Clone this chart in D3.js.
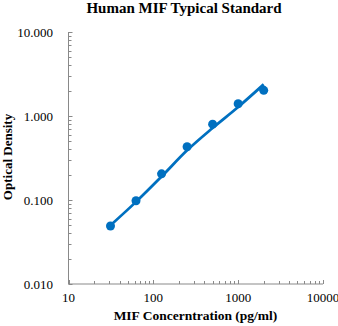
<!DOCTYPE html>
<html><head><meta charset="utf-8">
<script src="https://d3js.org/d3.v7.min.js"></script>
<style>body{margin:0;background:#fff}svg{display:block}</style>
</head><body>
<script>
const concentrations = [31.25, 62.5, 125, 250, 500, 1000, 2000];
const odValues = [0.049, 0.098, 0.205, 0.43, 0.80, 1.40, 2.02];
const fitConc = [31.25, 62.5, 125, 250, 500, 1000, 2000];
const fitOD = [0.05, 0.095, 0.19, 0.39, 0.72, 1.28, 2.38];
const xTicks = [10, 100, 1000, 10000];
const yTicks = [0.01, 0.1, 1, 10];
const title = "Human MIF Typical Standard";
const xTitle = "MIF Concerntration (pg/ml)";
const yTitle = "Optical Density";

const W = 338, H = 326;
const m = {left: 68.5, right: 15, top: 32, bottom: 42};
const svg = d3.select("body").append("svg").attr("width", W).attr("height", H);
const x = d3.scaleLog().domain([10, 10000]).range([m.left, W - m.right]);
const y = d3.scaleLog().domain([0.01, 10]).range([H - m.bottom, m.top]);
const axisColor = "#898989";
const font = "'Liberation Serif','Times New Roman',serif";

function minors(dom) {
  const out = [];
  for (let e = Math.log10(dom[0]); e < Math.log10(dom[1]); e++) {
    for (let k = 2; k <= 9; k++) out.push(k * Math.pow(10, e));
  }
  return out;
}
const g = svg.append("g");
g.append("line").attr("x1", x(10)).attr("x2", x(10)).attr("y1", y(10)).attr("y2", y(0.01))
  .attr("stroke", axisColor).attr("stroke-width", 1);
g.selectAll(".ymaj").data(yTicks).join("line")
  .attr("x1", x(10)).attr("x2", x(10) + 4).attr("y1", d => Math.round(y(d)) + 0.5).attr("y2", d => Math.round(y(d)) + 0.5)
  .attr("stroke", axisColor);
g.selectAll(".ymin").data(minors([0.01, 10])).join("line")
  .attr("x1", x(10)).attr("x2", x(10) + 3).attr("y1", d => Math.round(y(d)) + 0.5).attr("y2", d => Math.round(y(d)) + 0.5)
  .attr("stroke", axisColor);
g.append("line").attr("x1", x(10)).attr("x2", x(10000)).attr("y1", y(0.01)).attr("y2", y(0.01))
  .attr("stroke", axisColor).attr("stroke-width", 1);
g.selectAll(".xmaj").data(xTicks).join("line")
  .attr("x1", d => Math.round(x(d)) + 0.5).attr("x2", d => Math.round(x(d)) + 0.5).attr("y1", y(0.01)).attr("y2", y(0.01) - 4)
  .attr("stroke", axisColor);
g.selectAll(".xmin").data(minors([10, 10000])).join("line")
  .attr("x1", d => Math.round(x(d)) + 0.5).attr("x2", d => Math.round(x(d)) + 0.5).attr("y1", y(0.01)).attr("y2", y(0.01) - 3)
  .attr("stroke", axisColor);

svg.selectAll(".yl").data(yTicks).join("text")
  .attr("x", 53).attr("y", d => y(d) + 4.5).attr("text-anchor", "end")
  .attr("font-family", font).attr("font-size", 13).attr("fill", "#000")
  .text(d => d3.format(".3f")(d));
svg.selectAll(".xl").data(xTicks).join("text")
  .attr("x", d => x(d)).attr("y", 302).attr("text-anchor", "middle")
  .attr("font-family", font).attr("font-size", 13).attr("fill", "#000")
  .text(d => d);

const line = d3.line().x((d, i) => x(fitConc[i])).y(d => y(d)).curve(d3.curveMonotoneX);
svg.append("path").datum(fitOD).attr("d", line).attr("fill", "none")
  .attr("stroke", "#0070C0").attr("stroke-width", 2.75);
svg.selectAll(".pt").data(odValues).join("circle")
  .attr("cx", (d, i) => x(concentrations[i])).attr("cy", d => y(d)).attr("r", 4.5)
  .attr("fill", "#0070C0");

svg.append("text").attr("x", 184).attr("y", 13).attr("text-anchor", "middle")
  .attr("font-family", font).attr("font-size", 15).attr("font-weight", "bold").text(title);
svg.append("text").attr("x", 195.5).attr("y", 320).attr("text-anchor", "middle")
  .attr("font-family", font).attr("font-size", 13.5).attr("font-weight", "bold").text(xTitle);
svg.append("text").attr("transform", "translate(12,157) rotate(-90)").attr("text-anchor", "middle")
  .attr("font-family", font).attr("font-size", 13).attr("font-weight", "bold").text(yTitle);
</script>
</body></html>
